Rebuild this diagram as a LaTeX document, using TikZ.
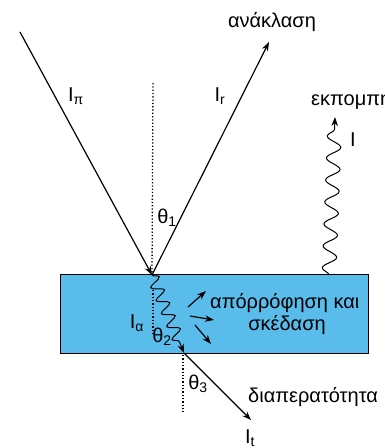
\documentclass[tikz,border=0pt]{standalone}
\usepackage{fontspec}
\setmainfont{Liberation Sans}
\usetikzlibrary{arrows.meta,decorations.pathmorphing}
\definecolor{slabblue}{RGB}{90,188,234}
\tikzset{
  ray/.style={line width=1.2pt,-{Stealth[length=9pt,width=6.5pt]}},
  normalline/.style={line width=1.3pt,dotted},
  lbl/.style={inner sep=0pt,font=\fontsize{20}{22}\selectfont},
  wave/.style={line width=1pt,decorate,decoration={snake,amplitude=7pt,segment length=22pt,post length=7pt}},
}
\begin{document}
\begin{tikzpicture}[x=1pt,y=-1pt]
\useasboundingbox (0,0) rectangle (385,448);
% slab
\node[draw,line width=1pt,fill=slabblue,minimum width=308pt,minimum height=79pt,inner sep=0pt,anchor=north west] (slab) at (60,274) {};
% points
\coordinate (S) at (20,32);
\coordinate (P) at (152,275);
\coordinate (R) at (269,42);
\coordinate (Q) at (184,353);
\coordinate (T) at (251,420);
\coordinate (N1) at (153,83);
\coordinate (N2) at (153,290);
\coordinate (N3) at (153,333);
\coordinate (N4) at (183,355);
\coordinate (N5) at (183,414);
\coordinate (E0) at (329,275);
\coordinate (E1) at (335,117);
% normals
\draw[normalline] (N1) -- (P);
\draw[normalline] (N2) -- (N3);
\draw[normalline] (N4) -- (N5);
% rays
\draw[ray] (S) -- (P);
\draw[ray] (P) -- (R);
\draw[ray] (Q) -- (T);
% emission wave
\draw[wave,-{Stealth[length=9pt,width=6.5pt]}] (E0) -- (E1);
% absorbed wave
\draw[line width=1pt,decorate,decoration={snake,amplitude=6pt,segment length=14pt,post length=7pt},-{Stealth[length=9pt,width=6.5pt]}] (P) -- (Q);
% scatter arrows
\coordinate (A1) at (188,307);
\coordinate (B1) at (206,291);
\coordinate (A2) at (190,316);
\coordinate (B2) at (214,320);
\coordinate (A3) at (195,325);
\coordinate (B3) at (211,344);
\draw[ray] (A1) -- (B1);
\draw[ray] (A2) -- (B2);
\draw[ray] (A3) -- (B3);
% labels
\node[lbl] (lref) at (272,22) {ανάκλαση};
\node[lbl,anchor=west] (lemi) at (311,100) {εκπομπή};
\node[lbl] (lIpi) at (76,96) {I\textsubscript{π}};
\node[lbl] (lIr) at (220,96) {I\textsubscript{r}};
\node[lbl] (lI) at (353,140) {I};
\node[lbl] (lth1) at (167,218) {θ\textsubscript{1}};
\node[lbl] (lIa) at (137,323) {I\textsubscript{α}};
\node[lbl] (lth2) at (162,337) {θ\textsubscript{2}};
\node[lbl] (lth3) at (198,384) {θ\textsubscript{3}};
\node[lbl,anchor=west] (labs) at (210,303) {απόρρόφηση και};
\node[lbl] (lsk) at (287,325) {σκέδαση};
\node[lbl,anchor=west] (ltr) at (248,397) {διαπερατότητα};
\node[lbl] (lIt) at (250,438) {I\textsubscript{t}};
\end{tikzpicture}
\end{document}
